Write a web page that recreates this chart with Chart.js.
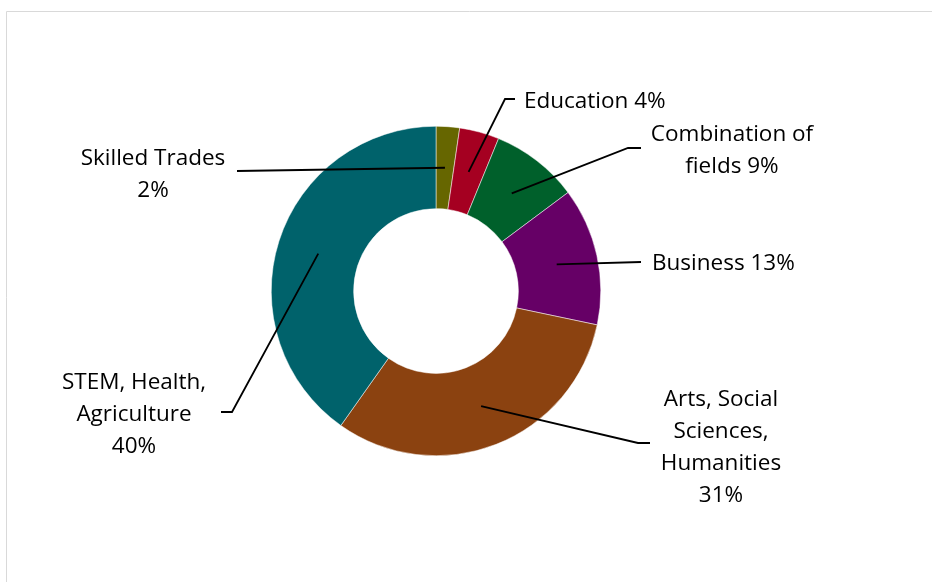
<!DOCTYPE html>
<html>
<head>
<meta charset="utf-8">
<script src="https://cdn.jsdelivr.net/npm/chart.js@4.4.1/dist/chart.umd.min.js"></script>
<style>
  html, body { margin: 0; padding: 0; background: #fff; }
  #wrap { width: 932px; height: 582px; position: relative; }
</style>
</head>
<body>
<div id="wrap"><canvas id="fieldsChart" width="932" height="582"></canvas></div>
<script>
  const categories = [
    'Skilled Trades',
    'Education',
    'Combination of fields',
    'Business',
    'Arts, Social Sciences, Humanities',
    'STEM, Health, Agriculture',
  ];

  const shares = [2.3, 3.9, 8.6, 13.5, 31.5, 40.2];

  const labelLines = [
    ['Skilled Trades', '2%'],
    ['Education 4%'],
    ['Combination of', 'fields 9%'],
    ['Business 13%'],
    ['Arts, Social', 'Sciences,', 'Humanities', '31%'],
    ['STEM, Health,', 'Agriculture', '40%'],
  ];

  const colors = ['#666600', '#a50021', '#00602b', '#660066', '#8b4210', '#00626b'];

  // where each callout sits: elbow of the leader, end of the leader, text anchor
  const callouts = [
    { elbow: [237, 171], end: [237, 171], x: 153, y: 157, align: 'center' },
    { elbow: [505, 99], end: [515, 99], x: 524, y: 100, align: 'left' },
    { elbow: [628, 148], end: [641, 148], x: 732, y: 133, align: 'center' },
    { elbow: [641, 262], end: [641, 262], x: 652, y: 262, align: 'left' },
    { elbow: [638, 443], end: [650, 443], x: 721, y: 398, align: 'center' },
    { elbow: [232, 412], end: [221, 412], x: 134, y: 381, align: 'center' },
  ];

  const FONT_SIZE = 22.5;
  const LINE_H = 32;

  const calloutPlugin = {
    id: 'callouts',
    beforeDraw(chart) {
      const ctx = chart.ctx;
      ctx.save();
      ctx.strokeStyle = '#d9d9d9';
      ctx.lineWidth = 1;
      ctx.beginPath();
      ctx.moveTo(6.5, 600);
      ctx.lineTo(6.5, 11.5);
      ctx.lineTo(940, 11.5);
      ctx.stroke();
      ctx.restore();
    },
    afterDraw(chart) {
      const ctx = chart.ctx;
      const arcs = chart.getDatasetMeta(0).data;
      ctx.save();
      ctx.strokeStyle = '#000';
      ctx.lineWidth = 1.8;
      ctx.fillStyle = '#000';
      ctx.font = FONT_SIZE + 'px "Open Sans", sans-serif';
      ctx.textBaseline = 'alphabetic';
      const capHalf = FONT_SIZE * 0.714 / 2;
      arcs.forEach((arc, i) => {
        const c = callouts[i];
        const p = arc.tooltipPosition();
        ctx.beginPath();
        ctx.moveTo(p.x, p.y);
        ctx.lineTo(c.elbow[0], c.elbow[1]);
        ctx.lineTo(c.end[0], c.end[1]);
        ctx.stroke();
        ctx.textAlign = c.align;
        labelLines[i].forEach((line, j) => {
          ctx.fillText(line, c.x, c.y + j * LINE_H + capHalf);
        });
      });
      ctx.restore();
    },
  };

  new Chart(document.getElementById('fieldsChart'), {
    type: 'doughnut',
    data: {
      labels: categories,
      datasets: [
        {
          data: shares,
          backgroundColor: colors,
          borderColor: '#ffffff',
          borderWidth: 0.5,
        },
      ],
    },
    options: {
      responsive: false,
      animation: false,
      cutout: '50%',
      layout: {
        padding: { left: 271, right: 331, top: 126, bottom: 126 },
      },
      plugins: {
        legend: { display: false },
        tooltip: { enabled: false },
      },
    },
    plugins: [calloutPlugin],
  });
</script>
</body>
</html>
